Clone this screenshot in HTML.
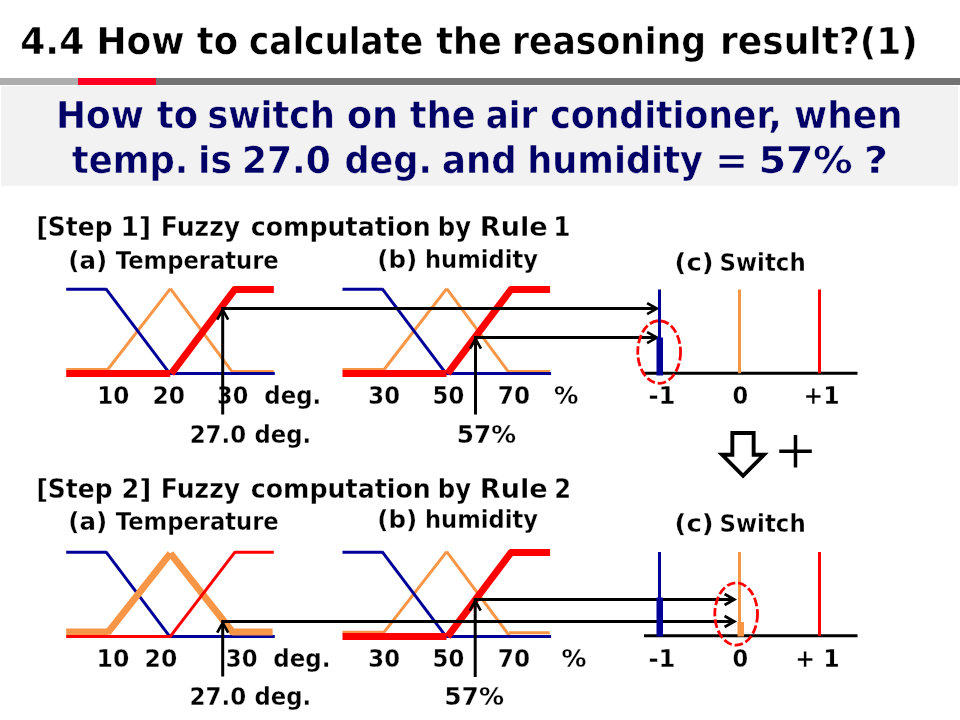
<!DOCTYPE html>
<html lang="en">
<head>
<meta charset="utf-8">
<title>4.4 How to calculate the reasoning result?(1)</title>
<style>
html,body{margin:0;padding:0;background:#fff;}
body{width:960px;height:720px;overflow:hidden;}
svg{display:block;will-change:transform;}
svg text{font-family:'DejaVu Sans','Liberation Sans',sans-serif;font-weight:bold;}
svg text.plus{font-family:'Liberation Serif','DejaVu Serif',serif;font-weight:normal;}
</style>
</head>
<body>
<svg width="960" height="720" viewBox="0 0 960 720">
<rect width="960" height="720" fill="#fff"/>
<rect x="0" y="78" width="78" height="7" fill="#ADADAD"/>
<rect x="78" y="78" width="78" height="7" fill="#FF0022"/>
<rect x="156" y="78" width="804" height="7" fill="#737373"/>
<rect x="1.25" y="86" width="956.65" height="99.8" fill="#F2F2F2"/>
<text y="54.02" font-size="37.38" fill="#000" stroke="#fff" stroke-width="0.45"><tspan x="20.15" textLength="64.23" lengthAdjust="spacingAndGlyphs">4.4</tspan> <tspan x="96.49" textLength="87.98" lengthAdjust="spacingAndGlyphs">How</tspan> <tspan x="196.82" textLength="41.16" lengthAdjust="spacingAndGlyphs">to</tspan> <tspan x="249.08" textLength="174.03" lengthAdjust="spacingAndGlyphs">calculate</tspan> <tspan x="436.33" textLength="65.58" lengthAdjust="spacingAndGlyphs">the</tspan> <tspan x="511.89" textLength="194.23" lengthAdjust="spacingAndGlyphs">reasoning</tspan> <tspan x="720.01" textLength="197.81" lengthAdjust="spacingAndGlyphs">result?(1)</tspan></text>
<text y="128.03" font-size="37.52" fill="#000066" stroke="#F2F2F2" stroke-width="0.45"><tspan x="55.99" textLength="87.98" lengthAdjust="spacingAndGlyphs">How</tspan> <tspan x="156.82" textLength="41.16" lengthAdjust="spacingAndGlyphs">to</tspan> <tspan x="207.48" textLength="127.46" lengthAdjust="spacingAndGlyphs">switch</tspan> <tspan x="346.96" textLength="51.11" lengthAdjust="spacingAndGlyphs">on</tspan> <tspan x="409.82" textLength="65.84" lengthAdjust="spacingAndGlyphs">the</tspan> <tspan x="485.83" textLength="51.47" lengthAdjust="spacingAndGlyphs">air</tspan> <tspan x="550.34" textLength="231.32" lengthAdjust="spacingAndGlyphs">conditioner,</tspan> <tspan x="794.02" textLength="108.49" lengthAdjust="spacingAndGlyphs">when</tspan></text>
<text y="172.93" font-size="37.52" fill="#000066" stroke="#F2F2F2" stroke-width="0.45"><tspan x="71.82" textLength="116.50" lengthAdjust="spacingAndGlyphs">temp.</tspan> <tspan x="197.99" textLength="33.94" lengthAdjust="spacingAndGlyphs">is</tspan> <tspan x="241.94" textLength="88.75" lengthAdjust="spacingAndGlyphs">27.0</tspan> <tspan x="344.46" textLength="87.33" lengthAdjust="spacingAndGlyphs">deg.</tspan> <tspan x="442.01" textLength="74.69" lengthAdjust="spacingAndGlyphs">and</tspan> <tspan x="527.34" textLength="175.51" lengthAdjust="spacingAndGlyphs">humidity</tspan> <tspan x="715.08" textLength="33.09" lengthAdjust="spacingAndGlyphs">=</tspan> <tspan x="758.73" textLength="94.00" lengthAdjust="spacingAndGlyphs">57%</tspan> <tspan x="863.90" textLength="24.04" lengthAdjust="spacingAndGlyphs">?</tspan></text>
<line x1="66.20" y1="369.50" x2="107.20" y2="369.50" stroke="#F79646" stroke-width="3"/>
<line x1="107.00" y1="370.50" x2="170.40" y2="288.70" stroke="#F79646" stroke-width="3"/>
<line x1="170.40" y1="288.70" x2="232.80" y2="372.70" stroke="#F79646" stroke-width="3"/>
<line x1="232.50" y1="371.50" x2="273.80" y2="371.50" stroke="#F79646" stroke-width="3"/>
<line x1="66.20" y1="289.30" x2="106.30" y2="289.30" stroke="#000099" stroke-width="3"/>
<line x1="105.80" y1="288.70" x2="170.20" y2="374.10" stroke="#000099" stroke-width="3"/>
<line x1="169.80" y1="373.50" x2="274.80" y2="373.50" stroke="#000099" stroke-width="3"/>
<line x1="66.20" y1="373.50" x2="170.20" y2="373.50" stroke="#FF0000" stroke-width="7"/>
<line x1="171.30" y1="373.70" x2="235.60" y2="288.30" stroke="#FF0000" stroke-width="7"/>
<line x1="233.50" y1="289.40" x2="273.80" y2="289.40" stroke="#FF0000" stroke-width="7"/>
<line x1="342.50" y1="369.50" x2="383.50" y2="369.50" stroke="#F79646" stroke-width="3"/>
<line x1="383.30" y1="370.50" x2="446.70" y2="288.70" stroke="#F79646" stroke-width="3"/>
<line x1="446.70" y1="288.70" x2="509.10" y2="372.70" stroke="#F79646" stroke-width="3"/>
<line x1="508.80" y1="371.50" x2="550.10" y2="371.50" stroke="#F79646" stroke-width="3"/>
<line x1="342.50" y1="289.30" x2="382.60" y2="289.30" stroke="#000099" stroke-width="3"/>
<line x1="382.10" y1="288.70" x2="446.50" y2="374.10" stroke="#000099" stroke-width="3"/>
<line x1="446.10" y1="373.50" x2="551.10" y2="373.50" stroke="#000099" stroke-width="3"/>
<line x1="342.50" y1="373.50" x2="446.50" y2="373.50" stroke="#FF0000" stroke-width="7"/>
<line x1="447.60" y1="373.70" x2="511.90" y2="288.30" stroke="#FF0000" stroke-width="7"/>
<line x1="509.80" y1="289.40" x2="550.10" y2="289.40" stroke="#FF0000" stroke-width="7"/>
<line x1="66.20" y1="552.30" x2="106.30" y2="552.30" stroke="#000099" stroke-width="3"/>
<line x1="105.80" y1="551.70" x2="170.20" y2="637.10" stroke="#000099" stroke-width="3"/>
<line x1="169.80" y1="636.50" x2="274.80" y2="636.50" stroke="#000099" stroke-width="3"/>
<line x1="66.20" y1="632.10" x2="108.00" y2="632.10" stroke="#F79646" stroke-width="7"/>
<line x1="107.20" y1="633.30" x2="170.40" y2="553.30" stroke="#F79646" stroke-width="7"/>
<line x1="170.40" y1="553.30" x2="233.60" y2="633.30" stroke="#F79646" stroke-width="7"/>
<line x1="232.20" y1="632.10" x2="272.60" y2="632.10" stroke="#F79646" stroke-width="7"/>
<line x1="66.20" y1="636.50" x2="170.20" y2="636.50" stroke="#FF0000" stroke-width="3"/>
<line x1="169.80" y1="637.10" x2="235.30" y2="551.70" stroke="#FF0000" stroke-width="3"/>
<line x1="234.80" y1="552.30" x2="273.80" y2="552.30" stroke="#FF0000" stroke-width="3"/>
<line x1="342.50" y1="632.20" x2="383.50" y2="632.20" stroke="#F79646" stroke-width="3"/>
<line x1="383.30" y1="633.20" x2="446.70" y2="551.70" stroke="#F79646" stroke-width="3"/>
<line x1="446.70" y1="551.70" x2="509.60" y2="636.00" stroke="#F79646" stroke-width="3"/>
<line x1="509.10" y1="632.70" x2="549.80" y2="632.70" stroke="#F79646" stroke-width="3"/>
<line x1="342.50" y1="552.30" x2="382.60" y2="552.30" stroke="#000099" stroke-width="3"/>
<line x1="382.10" y1="551.70" x2="446.50" y2="637.10" stroke="#000099" stroke-width="3"/>
<line x1="446.10" y1="636.50" x2="551.10" y2="636.50" stroke="#000099" stroke-width="3"/>
<line x1="342.50" y1="636.50" x2="446.50" y2="636.50" stroke="#FF0000" stroke-width="7"/>
<line x1="447.60" y1="636.70" x2="511.90" y2="551.30" stroke="#FF0000" stroke-width="7"/>
<line x1="509.80" y1="552.40" x2="550.10" y2="552.40" stroke="#FF0000" stroke-width="7"/>
<text y="235.56" font-size="26.22" fill="#000" stroke="#fff" stroke-width="0.31"><tspan x="36.46" textLength="76.06" lengthAdjust="spacingAndGlyphs">[Step</tspan> <tspan x="120.60" textLength="30.59" lengthAdjust="spacingAndGlyphs">1]</tspan> <tspan x="160.84" textLength="79.26" lengthAdjust="spacingAndGlyphs">Fuzzy</tspan> <tspan x="250.76" textLength="180.12" lengthAdjust="spacingAndGlyphs">computation</tspan> <tspan x="437.81" textLength="33.27" lengthAdjust="spacingAndGlyphs">by</tspan> <tspan x="479.85" textLength="67.88" lengthAdjust="spacingAndGlyphs">Rule</tspan> <tspan x="553.29" textLength="17.32" lengthAdjust="spacingAndGlyphs">1</tspan></text>
<text y="268.74" font-size="24.13" fill="#000" stroke="#fff" stroke-width="0.29"><tspan x="68.35" textLength="38.90" lengthAdjust="spacingAndGlyphs">(a)</tspan> <tspan x="115.76" textLength="162.95" lengthAdjust="spacingAndGlyphs">Temperature</tspan></text>
<text y="267.84" font-size="24.13" fill="#000" stroke="#fff" stroke-width="0.29"><tspan x="377.24" textLength="40.01" lengthAdjust="spacingAndGlyphs">(b)</tspan> <tspan x="424.96" textLength="113.08" lengthAdjust="spacingAndGlyphs">humidity</tspan></text>
<text y="270.64" font-size="24.13" fill="#000" stroke="#fff" stroke-width="0.29"><tspan x="674.62" textLength="39.01" lengthAdjust="spacingAndGlyphs">(c)</tspan> <tspan x="719.47" textLength="86.20" lengthAdjust="spacingAndGlyphs">Switch</tspan></text>
<text x="97.15" y="403.84" font-size="24.13" fill="#000" stroke="#fff" stroke-width="0.29" textLength="32.19" lengthAdjust="spacingAndGlyphs">10</text>
<text x="152.51" y="403.84" font-size="24.13" fill="#000" stroke="#fff" stroke-width="0.29" textLength="32.49" lengthAdjust="spacingAndGlyphs">20</text>
<text x="217.12" y="403.84" font-size="24.13" fill="#000" stroke="#fff" stroke-width="0.29" textLength="31.08" lengthAdjust="spacingAndGlyphs">30</text>
<text x="264.34" y="403.84" font-size="24.13" fill="#000" stroke="#fff" stroke-width="0.29" textLength="56.88" lengthAdjust="spacingAndGlyphs">deg.</text>
<text x="368.34" y="403.84" font-size="24.13" fill="#000" stroke="#fff" stroke-width="0.29" textLength="31.63" lengthAdjust="spacingAndGlyphs">30</text>
<text x="432.61" y="403.84" font-size="24.13" fill="#000" stroke="#fff" stroke-width="0.29" textLength="31.61" lengthAdjust="spacingAndGlyphs">50</text>
<text x="497.81" y="403.84" font-size="24.13" fill="#000" stroke="#fff" stroke-width="0.29" textLength="32.18" lengthAdjust="spacingAndGlyphs">70</text>
<text x="554.07" y="403.84" font-size="24.13" fill="#000" stroke="#fff" stroke-width="0.29" textLength="24.35" lengthAdjust="spacingAndGlyphs">%</text>
<text x="648.53" y="403.84" font-size="24.13" fill="#000" stroke="#fff" stroke-width="0.29" textLength="27.04" lengthAdjust="spacingAndGlyphs">-1</text>
<text x="732.54" y="403.84" font-size="24.13" fill="#000" stroke="#fff" stroke-width="0.29" textLength="15.68" lengthAdjust="spacingAndGlyphs">0</text>
<text x="803.61" y="403.84" font-size="24.13" fill="#000" stroke="#fff" stroke-width="0.29" textLength="36.15" lengthAdjust="spacingAndGlyphs">+1</text>
<text y="443.04" font-size="24.13" fill="#000" stroke="#fff" stroke-width="0.29"><tspan x="189.65" textLength="56.59" lengthAdjust="spacingAndGlyphs">27.0</tspan> <tspan x="254.54" textLength="56.67" lengthAdjust="spacingAndGlyphs">deg.</tspan></text>
<text x="456.69" y="443.04" font-size="24.13" fill="#000" stroke="#fff" stroke-width="0.29" textLength="59.24" lengthAdjust="spacingAndGlyphs">57%</text>
<text y="497.76" font-size="26.22" fill="#000" stroke="#fff" stroke-width="0.31"><tspan x="36.46" textLength="76.06" lengthAdjust="spacingAndGlyphs">[Step</tspan> <tspan x="121.57" textLength="29.54" lengthAdjust="spacingAndGlyphs">2]</tspan> <tspan x="160.84" textLength="79.26" lengthAdjust="spacingAndGlyphs">Fuzzy</tspan> <tspan x="250.76" textLength="180.12" lengthAdjust="spacingAndGlyphs">computation</tspan> <tspan x="437.81" textLength="33.27" lengthAdjust="spacingAndGlyphs">by</tspan> <tspan x="479.85" textLength="67.88" lengthAdjust="spacingAndGlyphs">Rule</tspan> <tspan x="554.20" textLength="16.80" lengthAdjust="spacingAndGlyphs">2</tspan></text>
<text y="530.34" font-size="24.13" fill="#000" stroke="#fff" stroke-width="0.29"><tspan x="68.35" textLength="38.90" lengthAdjust="spacingAndGlyphs">(a)</tspan> <tspan x="115.76" textLength="162.95" lengthAdjust="spacingAndGlyphs">Temperature</tspan></text>
<text y="527.84" font-size="24.13" fill="#000" stroke="#fff" stroke-width="0.29"><tspan x="377.24" textLength="40.01" lengthAdjust="spacingAndGlyphs">(b)</tspan> <tspan x="424.96" textLength="113.08" lengthAdjust="spacingAndGlyphs">humidity</tspan></text>
<text y="531.64" font-size="24.13" fill="#000" stroke="#fff" stroke-width="0.29"><tspan x="674.62" textLength="39.01" lengthAdjust="spacingAndGlyphs">(c)</tspan> <tspan x="719.47" textLength="86.20" lengthAdjust="spacingAndGlyphs">Switch</tspan></text>
<text x="96.60" y="667.14" font-size="24.13" fill="#000" stroke="#fff" stroke-width="0.29" textLength="32.76" lengthAdjust="spacingAndGlyphs">10</text>
<text x="144.60" y="667.14" font-size="24.13" fill="#000" stroke="#fff" stroke-width="0.29" textLength="32.66" lengthAdjust="spacingAndGlyphs">20</text>
<text x="225.84" y="667.14" font-size="24.13" fill="#000" stroke="#fff" stroke-width="0.29" textLength="31.63" lengthAdjust="spacingAndGlyphs">30</text>
<text x="273.33" y="667.14" font-size="24.13" fill="#000" stroke="#fff" stroke-width="0.29" textLength="57.15" lengthAdjust="spacingAndGlyphs">deg.</text>
<text x="368.34" y="667.14" font-size="24.13" fill="#000" stroke="#fff" stroke-width="0.29" textLength="31.63" lengthAdjust="spacingAndGlyphs">30</text>
<text x="432.61" y="667.14" font-size="24.13" fill="#000" stroke="#fff" stroke-width="0.29" textLength="31.61" lengthAdjust="spacingAndGlyphs">50</text>
<text x="497.81" y="667.14" font-size="24.13" fill="#000" stroke="#fff" stroke-width="0.29" textLength="32.18" lengthAdjust="spacingAndGlyphs">70</text>
<text x="561.55" y="667.14" font-size="24.13" fill="#000" stroke="#fff" stroke-width="0.29" textLength="24.89" lengthAdjust="spacingAndGlyphs">%</text>
<text x="648.53" y="667.14" font-size="24.13" fill="#000" stroke="#fff" stroke-width="0.29" textLength="27.04" lengthAdjust="spacingAndGlyphs">-1</text>
<text x="732.54" y="667.14" font-size="24.13" fill="#000" stroke="#fff" stroke-width="0.29" textLength="15.68" lengthAdjust="spacingAndGlyphs">0</text>
<text x="795.36" y="667.14" font-size="24.13" fill="#000" stroke="#fff" stroke-width="0.29" textLength="44.41" lengthAdjust="spacingAndGlyphs">+ 1</text>
<text y="705.14" font-size="24.13" fill="#000" stroke="#fff" stroke-width="0.29"><tspan x="189.44" textLength="56.80" lengthAdjust="spacingAndGlyphs">27.0</tspan> <tspan x="254.54" textLength="56.67" lengthAdjust="spacingAndGlyphs">deg.</tspan></text>
<text x="444.17" y="705.14" font-size="24.13" fill="#000" stroke="#fff" stroke-width="0.29" textLength="59.77" lengthAdjust="spacingAndGlyphs">57%</text>
<polyline points="222.7,414.5 222.7,309.8" fill="none" stroke="#000" stroke-width="3" stroke-linecap="butt" stroke-linejoin="miter"/>
<polyline points="217.2,319.59999999999997 222.7,309.9 228.2,319.59999999999997" fill="none" stroke="#000" stroke-width="2.7" stroke-linecap="butt" stroke-linejoin="miter"/>
<polyline points="221.2,308.6 656.9,308.6" fill="none" stroke="#000" stroke-width="3" stroke-linecap="butt" stroke-linejoin="miter"/>
<polyline points="647.1,303.1 656.8,308.6 647.1,314.1" fill="none" stroke="#000" stroke-width="2.7" stroke-linecap="butt" stroke-linejoin="miter"/>
<polyline points="475.5,414.5 475.5,338.8" fill="none" stroke="#000" stroke-width="3" stroke-linecap="butt" stroke-linejoin="miter"/>
<polyline points="470.0,348.59999999999997 475.5,338.9 481.0,348.59999999999997" fill="none" stroke="#000" stroke-width="2.7" stroke-linecap="butt" stroke-linejoin="miter"/>
<polyline points="474,337.6 656.9,337.6" fill="none" stroke="#000" stroke-width="3" stroke-linecap="butt" stroke-linejoin="miter"/>
<polyline points="647.1,332.1 656.8,337.6 647.1,343.1" fill="none" stroke="#000" stroke-width="2.7" stroke-linecap="butt" stroke-linejoin="miter"/>
<polyline points="222.7,676.5 222.7,622.8000000000001" fill="none" stroke="#000" stroke-width="3" stroke-linecap="butt" stroke-linejoin="miter"/>
<polyline points="217.2,632.6 222.7,622.9000000000001 228.2,632.6" fill="none" stroke="#000" stroke-width="2.7" stroke-linecap="butt" stroke-linejoin="miter"/>
<polyline points="221.2,621.5 734.4,621.5" fill="none" stroke="#000" stroke-width="3" stroke-linecap="butt" stroke-linejoin="miter"/>
<polyline points="724.6,616.0 734.3,621.5 724.6,627.0" fill="none" stroke="#000" stroke-width="2.7" stroke-linecap="butt" stroke-linejoin="miter"/>
<polyline points="475.2,677 475.2,600.8000000000001" fill="none" stroke="#000" stroke-width="3" stroke-linecap="butt" stroke-linejoin="miter"/>
<polyline points="469.7,610.6 475.2,600.9000000000001 480.7,610.6" fill="none" stroke="#000" stroke-width="2.7" stroke-linecap="butt" stroke-linejoin="miter"/>
<polyline points="473.7,599.5 734.4,599.5" fill="none" stroke="#000" stroke-width="3" stroke-linecap="butt" stroke-linejoin="miter"/>
<polyline points="724.6,594.0 734.3,599.5 724.6,605.0" fill="none" stroke="#000" stroke-width="2.7" stroke-linecap="butt" stroke-linejoin="miter"/>
<polyline points="644,373.25 857.5,373.25" fill="none" stroke="#000" stroke-width="3" stroke-linecap="butt" stroke-linejoin="miter"/>
<polyline points="659.5,289.5 659.5,373.25" fill="none" stroke="#000099" stroke-width="3" stroke-linecap="butt" stroke-linejoin="miter"/>
<polyline points="739.5,289.5 739.5,373.25" fill="none" stroke="#F79646" stroke-width="3" stroke-linecap="butt" stroke-linejoin="miter"/>
<polyline points="819.5,289.5 819.5,373.25" fill="none" stroke="#FF0000" stroke-width="3" stroke-linecap="butt" stroke-linejoin="miter"/>
<polyline points="644,635.75 857.5,635.75" fill="none" stroke="#000" stroke-width="3" stroke-linecap="butt" stroke-linejoin="miter"/>
<polyline points="659.5,552.0 659.5,635.75" fill="none" stroke="#000099" stroke-width="3" stroke-linecap="butt" stroke-linejoin="miter"/>
<polyline points="739.5,552.0 739.5,635.75" fill="none" stroke="#F79646" stroke-width="3" stroke-linecap="butt" stroke-linejoin="miter"/>
<polyline points="819.5,552.0 819.5,635.75" fill="none" stroke="#FF0000" stroke-width="3" stroke-linecap="butt" stroke-linejoin="miter"/>
<rect x="656.5" y="337.5" width="6.5" height="38" fill="#000099"/>
<ellipse cx="659.15" cy="352" rx="21.4" ry="31.3" fill="none" stroke="#FF0000" stroke-width="2.8" stroke-dasharray="8.6 2.9"/>
<rect x="656.5" y="597.5" width="6.5" height="39" fill="#000099"/>
<rect x="737.5" y="622" width="6.5" height="14.5" fill="#F79646"/>
<ellipse cx="736.15" cy="614" rx="21.35" ry="31.2" fill="none" stroke="#FF0000" stroke-width="2.8" stroke-dasharray="8.6 2.9"/>
<polygon points="732.35,432.95 753.65,432.95 753.65,454.75 764,454.75 743.05,475.85 722.1,454.75 732.35,454.75" fill="#fff" stroke="#000" stroke-width="3.9" stroke-linejoin="miter"/>
<text class="plus" x="795.6" y="474.7" font-size="70" text-anchor="middle">+</text>
</svg>
</body>
</html>
